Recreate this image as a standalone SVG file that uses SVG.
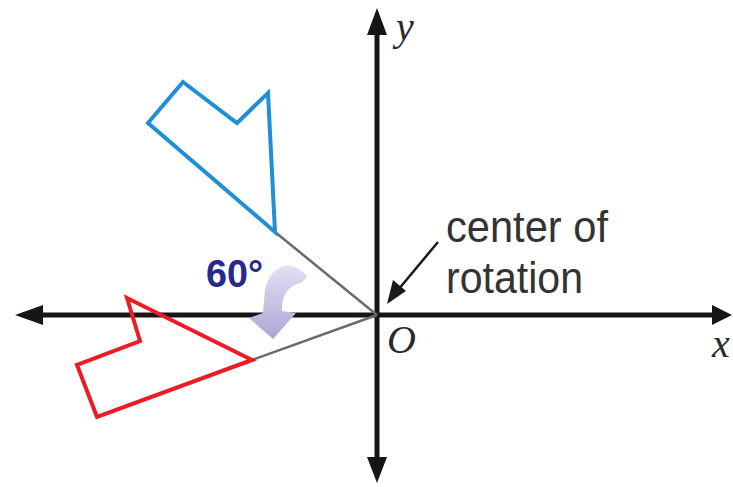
<svg xmlns="http://www.w3.org/2000/svg" width="733" height="487" viewBox="0 0 733 487">
<style>
.axis{stroke:#161616;stroke-width:5;fill:none}
.head{fill:#161616}
.guide{stroke:#6a6a6a;stroke-width:2.5;fill:none}
.blue{stroke:#1f8fd6;stroke-width:4;fill:none;stroke-linejoin:miter}
.red{stroke:#ec1b24;stroke-width:4;fill:none;stroke-linejoin:miter}
.lbl{font-family:"Liberation Serif",serif;font-style:italic;font-size:40px;fill:#2a2a2a}
.note{font-family:"Liberation Sans",Arial,sans-serif;font-size:44px;fill:#333}
.deg{font-family:"Liberation Sans",Arial,sans-serif;font-size:39px;font-weight:bold;fill:#252a8c}
</style>
<defs>
<linearGradient id="lav" x1="0" y1="0" x2="0" y2="1">
<stop offset="0" stop-color="#e2e0f3"/>
<stop offset="1" stop-color="#aaa6d6"/>
</linearGradient>
</defs>
<rect width="733" height="487" fill="#fff"/>
<g id="axes">
<line class="axis" x1="30" y1="315" x2="722" y2="315"/>
<line class="axis" x1="377" y1="22" x2="377" y2="472"/>
<polygon class="head" points="15,315 43,305 43,325"/>
<polygon class="head" points="732,315 712,305 712,325"/>
<polygon class="head" points="377,8 367,35 387,35"/>
<polygon class="head" points="377,483 367,457 387,457"/>
</g>
<g id="connectors">
<line class="guide" x1="275" y1="232" x2="377" y2="315"/>
<line class="guide" x1="252" y1="360" x2="377" y2="315"/>
<line x1="438" y1="242" x2="398" y2="290" stroke="#1a1a1a" stroke-width="2.5"/>
<polygon points="387,304 393,280 406,291" fill="#1a1a1a"/>
</g>
<g id="blue-figure">
<polygon class="blue" points="183,82 237,123 268,93 275,232 148,123"/>
</g>
<g id="red-figure">
<polygon class="red" points="127,298 140,341 77,365 97,417 252,360"/>
</g>
<g id="rotation-arrow">
<path d="M307 277 C297 261 272 259 265 290 L263 313 L249 318 L273 339 L296 313 L282 311 C281 296 289 285 301 283 Z" fill="url(#lav)"/>
</g>
<g id="labels">
<text class="deg" x="206" y="287" textLength="57" lengthAdjust="spacingAndGlyphs">60°</text>
<text class="note" x="446" y="242" textLength="162" lengthAdjust="spacingAndGlyphs">center of</text>
<text class="note" x="446" y="293" textLength="137" lengthAdjust="spacingAndGlyphs">rotation</text>
<text class="lbl" x="396" y="40">y</text>
<text class="lbl" x="712" y="357">x</text>
<text class="lbl" x="387" y="353">O</text>
</g>
</svg>
